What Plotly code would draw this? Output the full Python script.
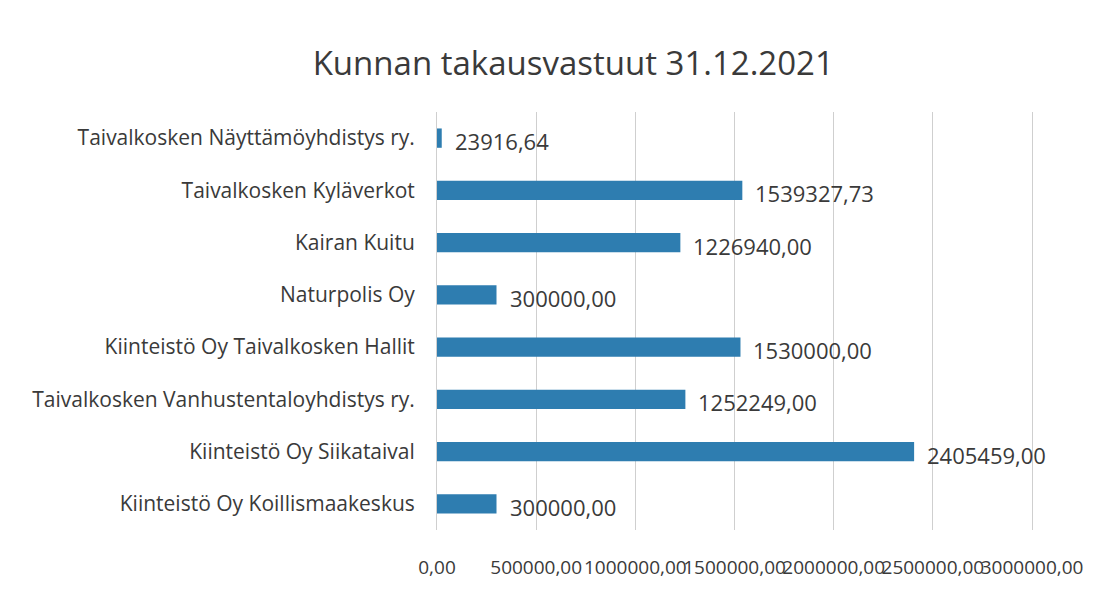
import plotly.graph_objects as go

categories = [
    "Kiinteistö Oy Koillismaakeskus",
    "Kiinteistö Oy Siikataival",
    "Taivalkosken Vanhustentaloyhdistys ry.",
    "Kiinteistö Oy Taivalkosken Hallit",
    "Naturpolis Oy",
    "Kairan Kuitu",
    "Taivalkosken Kyläverkot",
    "Taivalkosken Näyttämöyhdistys ry.",
]
values = [300000.00, 2405459.00, 1252249.00, 1530000.00, 300000.00, 1226940.00, 1539327.73, 23916.64]
tick_values = [0, 500000, 1000000, 1500000, 2000000, 2500000, 3000000]
title = "Kunnan takausvastuut 31.12.2021"

FONT = "Open Sans"
TXT = "#3a3a3a"


def fmt(v):
    return f"{v:.2f}".replace(".", ",")


fig = go.Figure(go.Bar(
    y=categories, x=values, orientation="h",
    marker=dict(color="#2e7db0", line=dict(width=0)),
    width=0.37,
))
for c, v in zip(categories, values):
    fig.add_annotation(x=v, y=c, text=fmt(v), showarrow=False,
                       xanchor="left", yanchor="middle", xshift=11, yshift=-3,
                       font=dict(family=FONT, size=22, color=TXT))

fig.update_layout(
    width=1104, height=586,
    paper_bgcolor="white", plot_bgcolor="white",
    margin=dict(l=429, r=74, t=104, b=64),
    title=dict(text=title, x=0.512, xanchor="center", y=0.905, yanchor="middle",
               font=dict(family=FONT, size=33, color=TXT)),
    showlegend=False,
    xaxis=dict(range=[0, 3030000], tickvals=tick_values,
               ticktext=[fmt(v) for v in tick_values],
               tickangle=0, automargin=False,
               showgrid=True, gridcolor="#cfcfcf", gridwidth=1,
               zeroline=False, showline=False, ticks="",
               ticklabelstandoff=24,
               tickfont=dict(family=FONT, size=19, color=TXT)),
    yaxis=dict(showgrid=False, zeroline=False, showline=True, linecolor="#cfcfcf",
               automargin=False,
               ticks="", ticklabelstandoff=17,
               tickfont=dict(family=FONT, size=21, color=TXT)),
)
fig.write_html("out.html")
